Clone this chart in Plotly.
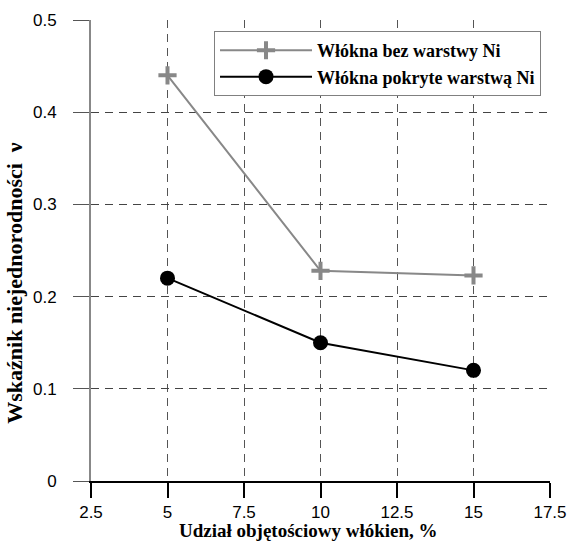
import plotly.graph_objects as go

# Data
x_vals = [5, 10, 15]
bez_ni = [0.44, 0.228, 0.223]
pokryte_ni = [0.22, 0.15, 0.12]
series_names = ["Włókna bez warstwy Ni", "Włókna pokryte warstwą Ni"]

x_ticks = [2.5, 5, 7.5, 10, 12.5, 15, 17.5]
x_ticktext = ["2.5", "5", "7.5", "10", "12.5", "15", "17.5"]
y_ticks = [0, 0.1, 0.2, 0.3, 0.4, 0.5]
y_ticktext = ["0", "0.1", "0.2", "0.3", "0.4", "0.5"]

x_title = "Udział objętościowy włókien, %"
y_title = "Wskaźnik niejednorodności\u00a0\u00a0ν"

serif = "Liberation Serif, Times New Roman, serif"
sans = "Liberation Sans, Arial, sans-serif"

fig = go.Figure()
fig.add_trace(go.Scatter(
    x=x_vals, y=bez_ni, mode="lines+markers", name="<b>" + series_names[0] + "</b>",
    line=dict(color="#888888", width=2),
    marker=dict(symbol="cross-thin", size=13, line=dict(color="#888888", width=4)),
))
fig.add_trace(go.Scatter(
    x=x_vals, y=pokryte_ni, mode="lines+markers", name="<b>" + series_names[1] + "</b>",
    line=dict(color="#000000", width=2),
    marker=dict(symbol="circle", size=15, color="#000000"),
))

fig.update_layout(
    width=570, height=542,
    margin=dict(l=91, r=20, t=20, b=61, autoexpand=False),
    paper_bgcolor="white", plot_bgcolor="white",
    showlegend=True,
    legend=dict(
        x=0.268, y=0.976, xanchor="left", yanchor="top",
        bgcolor="white", bordercolor="#808080", borderwidth=1,
        font=dict(family=serif, size=18, color="black"),
        itemwidth=92, tracegroupgap=0,
    ),
    xaxis=dict(
        range=[2.5, 17.5], tickvals=x_ticks, ticktext=x_ticktext,
        showgrid=True, gridcolor="#555555", griddash="8px,6px", gridwidth=1,
        showline=True, linecolor="black", linewidth=2,
        ticks="outside", ticklen=15, tickcolor="black", tickwidth=2,
        tickfont=dict(family=sans, size=17, color="black"),
        zeroline=False, automargin=False,
    ),
    yaxis=dict(
        range=[0, 0.5], tickvals=y_ticks, ticktext=y_ticktext,
        showgrid=True, gridcolor="#444444", griddash="8px,6px", gridwidth=1,
        showline=True, linecolor="#888888", linewidth=2,
        ticks="outside", ticklen=16, tickcolor="#555555", tickwidth=1,
        ticklabelstandoff=13,
        tickfont=dict(family=sans, size=17, color="black"),
        zeroline=False, automargin=False,
    ),
    annotations=[
        dict(text="<b>" + x_title + "</b>", xref="paper", yref="paper",
             x=0.473, y=-0.1323, xanchor="center", yanchor="bottom", showarrow=False,
             borderpad=0, font=dict(family=serif, size=19, color="black")),
        dict(text="<b>" + y_title + "</b>", xref="paper", yref="paper",
             x=-0.1656, y=0.43, xanchor="center", yanchor="middle", showarrow=False,
             borderpad=0, textangle=-90, font=dict(family=serif, size=22, color="black")),
    ],
)

fig.write_html(
    "out.html",
    config={"displayModeBar": False},
    post_script="document.body.style.margin='0';document.body.style.overflow='hidden';",
)
